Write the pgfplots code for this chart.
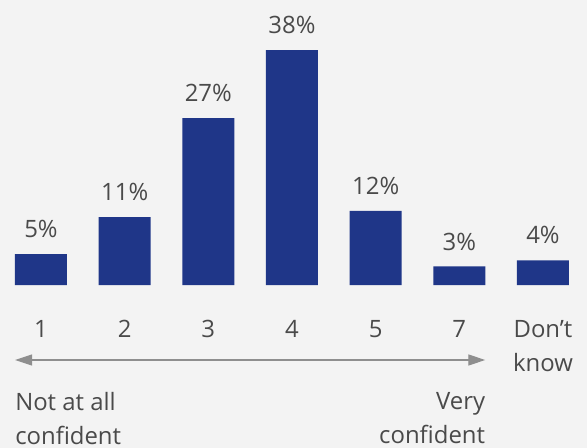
\documentclass[border=0pt]{standalone}
\usepackage{pgfplots}
\pgfplotsset{compat=1.18}
\usetikzlibrary{arrows.meta}
\usepackage{fontspec}
\setmainfont{Open Sans}
\definecolor{bg}{HTML}{F3F3F3}
\definecolor{barc}{HTML}{1F3688}
\definecolor{txt}{HTML}{4A4A4A}
\definecolor{arrowc}{HTML}{8E8E8E}
\newcommand{\lblfont}{\fontsize{24}{34}\selectfont}
\begin{document}
\begin{tikzpicture}
\useasboundingbox (0,0) rectangle (587bp,448bp);
\fill[bg] (0,0) rectangle (587bp,448bp);
\begin{axis}[
  at={(0bp,163bp)}, anchor=south west,
  scale only axis, width=587bp, height=285bp,
  xmin=-0.49, xmax=6.526, ymin=0, ymax=46.12,
  clip=false,
  axis line style={draw=none}, tick style={draw=none},
  ytick=\empty,
  xtick={0,1,2,3,4,5,6},
  xticklabels={1,2,3,4,5,7,{Don’t\\know}},
  xticklabel style={anchor=north, inner sep=0pt, yshift=-31bp, align=center, font=\lblfont, text=txt},
  ybar, bar width=52bp, bar shift=0pt,
  /pgf/number format/assume math mode=true,
  nodes near coords={\pgfmathprintnumber{\pgfplotspointmeta}\%},
  nodes near coords style={anchor=south, inner sep=0pt, yshift=16bp, font=\lblfont, text=txt},
]
\addplot[fill=barc, draw=none] coordinates {(0,5) (1,11) (2,27) (3,38) (4,12) (5,3) (6,4)};
\draw[arrowc, line width=1.3bp, {Triangle[length=17bp,width=11bp]}-{Triangle[length=17bp,width=11bp]}]
  ([yshift=-75bp]axis cs:-0.31,0) -- ([yshift=-75bp]axis cs:5.31,0);
\node[anchor=north west, align=left, inner sep=0pt, font=\lblfont, text=txt] at ([yshift=-107bp]axis cs:-0.31,0) {Not at all\\confident};
\node[anchor=north east, align=right, inner sep=0pt, font=\lblfont, text=txt] at ([yshift=-107bp]axis cs:5.31,0) {Very\\confident};
\end{axis}
\end{tikzpicture}
\end{document}
